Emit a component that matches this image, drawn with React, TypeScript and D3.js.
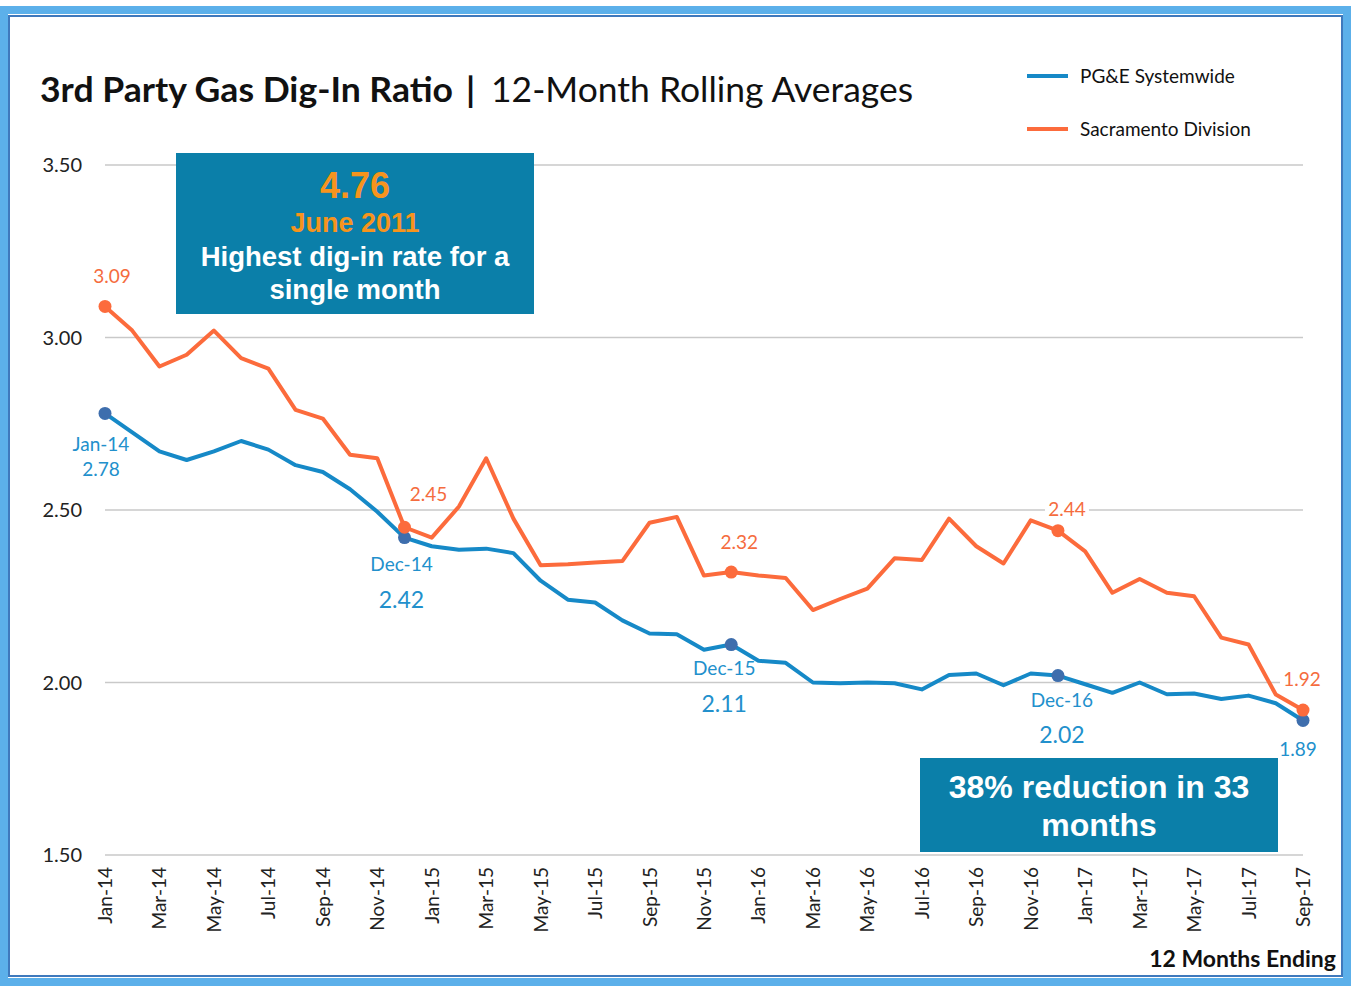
import { useEffect, useRef } from "react";
import * as d3 from "d3";

const months = [
  "Jan-14", "Feb-14", "Mar-14", "Apr-14", "May-14", "Jun-14", "Jul-14", "Aug-14", "Sep-14", "Oct-14", "Nov-14", "Dec-14",
  "Jan-15", "Feb-15", "Mar-15", "Apr-15", "May-15", "Jun-15", "Jul-15", "Aug-15", "Sep-15", "Oct-15", "Nov-15", "Dec-15",
  "Jan-16", "Feb-16", "Mar-16", "Apr-16", "May-16", "Jun-16", "Jul-16", "Aug-16", "Sep-16", "Oct-16", "Nov-16", "Dec-16",
  "Jan-17", "Feb-17", "Mar-17", "Apr-17", "May-17", "Jun-17", "Jul-17", "Aug-17", "Sep-17",
];

const pgeSystemwide = [
  2.78, 2.725, 2.67, 2.645, 2.67, 2.7, 2.675, 2.63, 2.61, 2.56, 2.495, 2.42,
  2.395, 2.385, 2.388, 2.375, 2.295, 2.24, 2.232, 2.18, 2.142, 2.14, 2.095, 2.11,
  2.063, 2.057, 2.0, 1.998, 2.0, 1.998, 1.98, 2.022, 2.026, 1.992, 2.026, 2.02,
  1.995, 1.97, 2.0, 1.966, 1.968, 1.952, 1.962, 1.94, 1.89,
];

const sacramentoDivision = [
  3.09, 3.02, 2.916, 2.95, 3.02, 2.94, 2.91, 2.79, 2.765, 2.66, 2.65, 2.45,
  2.42, 2.51, 2.65, 2.475, 2.34, 2.343, 2.348, 2.352, 2.463, 2.48, 2.31, 2.32,
  2.31, 2.303, 2.21, 2.242, 2.272, 2.36, 2.355, 2.475, 2.395, 2.345, 2.47, 2.44,
  2.38, 2.26, 2.3, 2.26, 2.25, 2.13, 2.11, 1.965, 1.92,
];

const yTicks = [1.5, 2.0, 2.5, 3.0, 3.5];
const markedMonths = ["Jan-14", "Dec-14", "Dec-15", "Dec-16", "Sep-17"];

const BLUE = "#1689c7";
const BLUE_TEXT = "#2290cc";
const BLUE_DOT = "#3e6ead";
const ORANGE = "#fc6b3c";
const ORANGE_TEXT = "#f56c3e";
const BOX = "#0b7fa9";
const LABEL_FONT = "Lato, 'Open Sans', sans-serif";
const BOX_FONT = "'Liberation Sans', Arial, sans-serif";

export default function App() {
  const ref = useRef<SVGSVGElement>(null);

  useEffect(() => {
    if (!ref.current) return;
    const width = 1351;
    const height = 986;
    const svg = d3.select(ref.current);
    svg.selectAll("*").remove();
    svg.attr("width", width).attr("height", height);

    svg.append("rect").attr("width", width).attr("height", height).attr("fill", "#ffffff");

    // frame
    svg.append("rect").attr("x", 4).attr("y", 10).attr("width", width - 8).attr("height", height - 14)
      .attr("fill", "none").attr("stroke", "#5cb0ea").attr("stroke-width", 8);
    svg.append("rect").attr("x", 9).attr("y", 16).attr("width", width - 18).attr("height", height - 26)
      .attr("fill", "none").attr("stroke", "#3f79bd").attr("stroke-width", 2);

    const x = d3.scalePoint<string>().domain(months).range([105, 1303]);
    const y = d3.scaleLinear().domain([1.5, 3.5]).range([855, 165]);

    // grid
    svg.append("g")
      .selectAll("line")
      .data(yTicks)
      .join("line")
      .attr("x1", 105).attr("x2", 1303)
      .attr("y1", (d) => y(d)).attr("y2", (d) => y(d))
      .attr("stroke", "#c9c9c9").attr("stroke-width", 1.5);

    svg.append("g")
      .selectAll("text")
      .data(yTicks)
      .join("text")
      .attr("x", 82).attr("y", (d) => y(d) + 7)
      .attr("text-anchor", "end")
      .style("font-family", LABEL_FONT).style("font-size", "20px").attr("fill", "#222")
      .text((d) => d3.format(".2f")(d));

    // x labels
    svg.append("g")
      .selectAll("text")
      .data(months.filter((_, i) => i % 2 === 0))
      .join("text")
      .attr("transform", (d) => `translate(${(x(d) || 0) + 7},867) rotate(-90)`)
      .attr("text-anchor", "end")
      .style("font-family", LABEL_FONT).style("font-size", "19px").attr("fill", "#222")
      .text((d) => d);

    svg.append("text").attr("x", 1336).attr("y", 967).attr("text-anchor", "end")
      .style("font-family", LABEL_FONT).style("font-size", "23px").style("font-weight", "bold").attr("fill", "#111")
      .text("12 Months Ending");

    // title
    svg.append("text").attr("x", 40).attr("y", 102)
      .style("font-family", LABEL_FONT).style("font-size", "35px").style("font-weight", "bold").attr("fill", "#111")
      .attr("textLength", 413).attr("lengthAdjust", "spacingAndGlyphs")
      .text("3rd Party Gas Dig-In Ratio");
    svg.append("text").attr("x", 466).attr("y", 102)
      .style("font-family", LABEL_FONT).style("font-size", "35px").style("font-weight", "bold").attr("fill", "#111")
      .text("|");
    svg.append("text").attr("x", 491).attr("y", 102)
      .style("font-family", LABEL_FONT).style("font-size", "35px").attr("fill", "#111")
      .attr("textLength", 422).attr("lengthAdjust", "spacingAndGlyphs")
      .text("12-Month Rolling Averages");

    // legend
    const legend = [
      { label: "PG&E Systemwide", color: BLUE },
      { label: "Sacramento Division", color: ORANGE },
    ];
    legend.forEach((item, i) => {
      const g = svg.append("g").attr("transform", `translate(1027,${76 + i * 53})`);
      g.append("line").attr("x1", 0).attr("x2", 41).attr("stroke", item.color).attr("stroke-width", 4);
      g.append("text").attr("x", 53).attr("y", 7)
        .style("font-family", LABEL_FONT).style("font-size", "19px").attr("fill", "#111")
        .text(item.label);
    });

    const line = d3.line<number>()
      .x((_, i) => x(months[i]) || 0)
      .y((d) => y(d));

    const series = [
      { values: pgeSystemwide, color: BLUE, dot: BLUE_DOT },
      { values: sacramentoDivision, color: ORANGE, dot: ORANGE },
    ];

    series.forEach((s) => {
      svg.append("path").datum(s.values)
        .attr("d", line).attr("fill", "none")
        .attr("stroke", s.color).attr("stroke-width", 4).attr("stroke-linejoin", "round");
    });
    series.forEach((s) => {
      svg.append("g").selectAll("circle")
        .data(markedMonths)
        .join("circle")
        .attr("cx", (m) => x(m) || 0)
        .attr("cy", (m) => y(s.values[months.indexOf(m)]))
        .attr("r", 6.5)
        .attr("fill", s.dot);
    });

    const val = (arr: number[], m: string) => arr[months.indexOf(m)];
    const fmt = d3.format(".2f");

    const label = (tx: number, ty: number, text: string, color: string, size: number, bg = false) => {
      if (bg) {
        svg.append("rect").attr("x", tx - 22).attr("y", ty - 17).attr("width", 44).attr("height", 22).attr("fill", "#fff");
      }
      svg.append("text").attr("x", tx).attr("y", ty).attr("text-anchor", "middle")
        .style("font-family", LABEL_FONT).style("font-size", `${size}px`).attr("fill", color)
        .text(text);
    };

    // orange callouts
    label((x("Jan-14") || 0) + 7, y(val(sacramentoDivision, "Jan-14")) - 23, fmt(val(sacramentoDivision, "Jan-14")), ORANGE_TEXT, 19);
    label((x("Dec-14") || 0) + 24, y(val(sacramentoDivision, "Dec-14")) - 26, fmt(val(sacramentoDivision, "Dec-14")), ORANGE_TEXT, 19);
    label((x("Dec-15") || 0) + 8, y(val(sacramentoDivision, "Dec-15")) - 23, fmt(val(sacramentoDivision, "Dec-15")), ORANGE_TEXT, 19);
    label((x("Dec-16") || 0) + 9, y(val(sacramentoDivision, "Dec-16")) - 15, fmt(val(sacramentoDivision, "Dec-16")), ORANGE_TEXT, 19, true);
    label((x("Sep-17") || 0) - 1, y(val(sacramentoDivision, "Sep-17")) - 24, fmt(val(sacramentoDivision, "Sep-17")), ORANGE_TEXT, 19, true);

    // blue callouts
    label((x("Jan-14") || 0) - 4, y(val(pgeSystemwide, "Jan-14")) + 38, "Jan-14", BLUE_TEXT, 19);
    label((x("Jan-14") || 0) - 4, y(val(pgeSystemwide, "Jan-14")) + 63, fmt(val(pgeSystemwide, "Jan-14")), BLUE_TEXT, 19);
    label((x("Dec-14") || 0) - 3, y(val(pgeSystemwide, "Dec-14")) + 33, "Dec-14", BLUE_TEXT, 19);
    label((x("Dec-14") || 0) - 3, y(val(pgeSystemwide, "Dec-14")) + 70, fmt(val(pgeSystemwide, "Dec-14")), BLUE_TEXT, 23);
    label((x("Dec-15") || 0) - 7, y(val(pgeSystemwide, "Dec-15")) + 30, "Dec-15", BLUE_TEXT, 19);
    label((x("Dec-15") || 0) - 7, y(val(pgeSystemwide, "Dec-15")) + 67, fmt(val(pgeSystemwide, "Dec-15")), BLUE_TEXT, 23);
    label((x("Dec-16") || 0) + 4, y(val(pgeSystemwide, "Dec-16")) + 31, "Dec-16", BLUE_TEXT, 19);
    label((x("Dec-16") || 0) + 4, y(val(pgeSystemwide, "Dec-16")) + 67, fmt(val(pgeSystemwide, "Dec-16")), BLUE_TEXT, 23);
    label((x("Sep-17") || 0) - 5, y(val(pgeSystemwide, "Sep-17")) + 36, fmt(val(pgeSystemwide, "Sep-17")), BLUE_TEXT, 19);

    // annotation boxes
    const box1 = svg.append("g");
    box1.append("rect").attr("x", 176).attr("y", 153).attr("width", 358).attr("height", 161).attr("fill", BOX);
    const boxText = (g: d3.Selection<SVGGElement, unknown, null, undefined>, cx: number, ty: number, text: string, size: number, color: string) => {
      g.append("text").attr("x", cx).attr("y", ty).attr("text-anchor", "middle")
        .style("font-family", BOX_FONT).style("font-size", `${size}px`).style("font-weight", "bold").attr("fill", color)
        .text(text);
    };
    boxText(box1, 355, 198, "4.76", 36, "#f7941d");
    boxText(box1, 355, 232, "June 2011", 27, "#f7941d");
    boxText(box1, 355, 266, "Highest dig-in rate for a", 27.5, "#ffffff");
    boxText(box1, 355, 299, "single month", 27.5, "#ffffff");

    const box2 = svg.append("g");
    box2.append("rect").attr("x", 920).attr("y", 758).attr("width", 358).attr("height", 94).attr("fill", BOX);
    boxText(box2, 1099, 798, "38% reduction in 33", 32, "#ffffff");
    boxText(box2, 1099, 836, "months", 32, "#ffffff");
  }, []);

  return (
    <div style={{ position: "absolute", left: 0, top: 0 }}>
      <svg ref={ref} style={{ display: "block" }}></svg>
    </div>
  );
}
